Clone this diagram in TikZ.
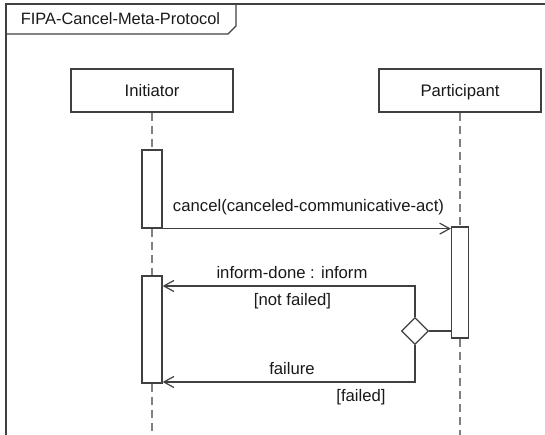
\documentclass[tikz,border=0pt]{standalone}
\usepackage{fontspec}
\setmainfont{Liberation Sans}
\usetikzlibrary{arrows.meta,shapes.geometric}
\begin{document}
\begin{tikzpicture}[x=1pt,y=-1pt,
  every node/.style={font=\fontsize{16.7}{19}\selectfont, text=black!90},
  line/.style={draw=black!75, line width=1.3pt},
  lifebox/.style={line, rectangle, minimum width=162pt, minimum height=43pt, inner sep=0pt,
    text height=12.5pt, text depth=0pt, fill=white},
  actbox/.style={line, rectangle, fill=white, inner sep=0pt},
  lifeline/.style={draw=black!50, line width=1.2pt, dash pattern=on 8pt off 5pt},
  msg/.style={line, -{Straight Barb[length=10pt,width=11pt,line width=1.2pt]}},
  choice/.style={line, diamond, shape aspect=1, minimum width=27pt, minimum height=27pt, inner sep=0pt, fill=white},
  lbl/.style={inner sep=0pt, anchor=base},
]
\useasboundingbox (0,0) rectangle (545,435);

% frame with its name tab
\begin{scope}
  \clip (0,0) rectangle (545,435);
  \draw[line] (6,440) -- (6,4) -- (550,4);
  \draw[line] (6,34) -- (228,34) -- (236,26) -- (236,4);
\end{scope}
\node[lbl, font=\fontsize{16.4}{19}\selectfont] (title) at (120.5,25) {FIPA-Cancel-Meta-Protocol};

% lifeline heads
\node[lifebox] (ini) at (152,90.5) {Initiator};
\node[lifebox] (par) at (460,90.5) {Participant};

% activations and the decision point
\node[actbox, minimum width=20pt, minimum height=78pt] (a1) at (152,189) {};
\node[actbox, minimum width=20pt, minimum height=107pt] (a2) at (152,329.5) {};
\node[actbox, minimum width=17pt, minimum height=111pt] (p1) at (460,282.5) {};
\node[choice] (dec) at (415,331) {};

% lifelines
\coordinate (iniEnd) at (152,436);
\coordinate (parEnd) at (460,436);
\draw[lifeline] (ini.south) -- (a1.north);
\draw[lifeline] (a1.south) -- (a2.north);
\draw[lifeline] (a2.south) -- (iniEnd);
\draw[lifeline] (par.south) -- (p1.north);
\draw[lifeline] (p1.south) -- (parEnd);

% messages
\draw[msg] (a1.south east) -- (a1.south east -| p1.west);
\node[lbl] (mcancel) at (308.5,212) {cancel(canceled-communicative-act)};

\draw[line] (dec.east) -- (dec.east -| p1.west);

\coordinate (k1) at (415,286);
\draw[msg] (dec.north) -- (k1) -- (k1 -| a2.east);
\node[lbl] (minform) at (292,278) {inform-done : inform};
\node[lbl] (gnot) at (292.5,305.5) {[not failed]};

\coordinate (k2) at (415,382);
\draw[msg] (dec.south) -- (k2) -- (k2 -| a2.east);
\node[lbl] (mfail) at (292,374) {failure};
\node[lbl] (gfail) at (361,401) {[failed]};
\end{tikzpicture}
\end{document}
